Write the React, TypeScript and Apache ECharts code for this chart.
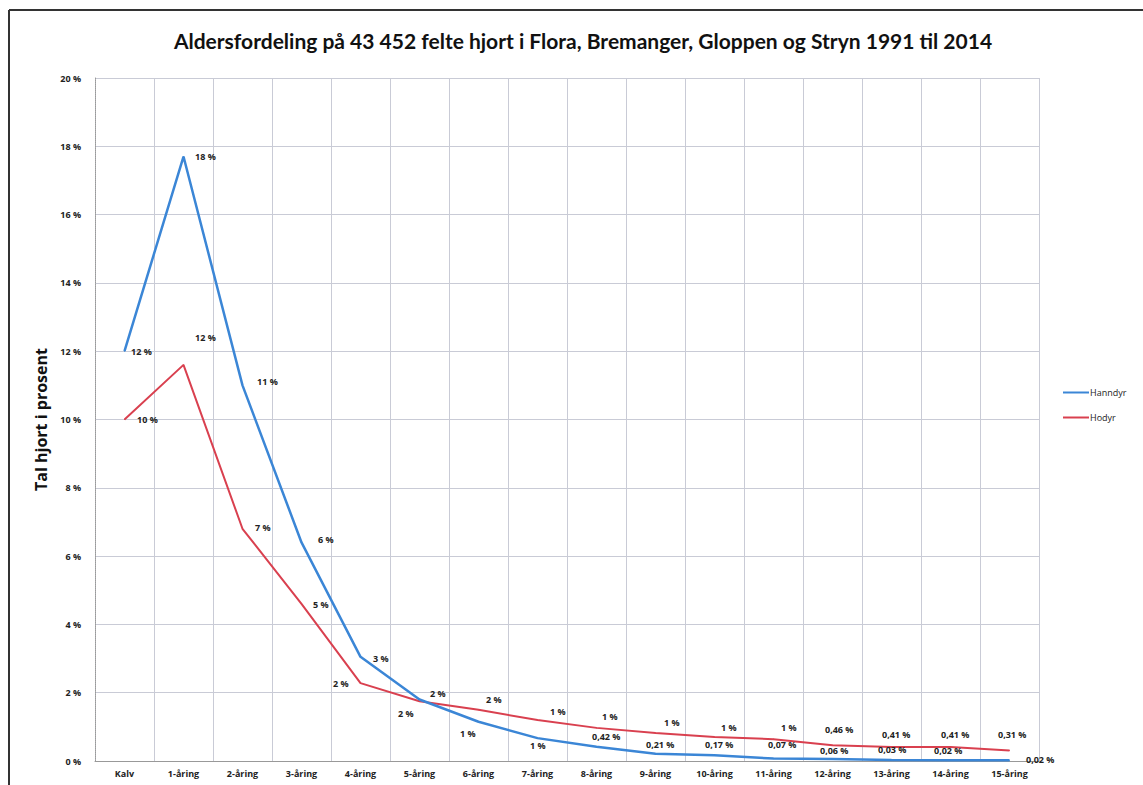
import React, { useEffect, useRef } from "react";
import * as echarts from "echarts";

const categories = ["Kalv", "1-åring", "2-åring", "3-åring", "4-åring", "5-åring", "6-åring", "7-åring", "8-åring", "9-åring", "10-åring", "11-åring", "12-åring", "13-åring", "14-åring", "15-åring"];
const hanndyr = [12.0, 17.7, 11.0, 6.4, 3.05, 1.8, 1.15, 0.67, 0.42, 0.21, 0.17, 0.07, 0.06, 0.03, 0.02, 0.02];
const hodyr = [10.0, 11.6, 6.8, 4.6, 2.28, 1.75, 1.5, 1.2, 0.97, 0.82, 0.7, 0.64, 0.46, 0.41, 0.41, 0.31];
const yTicks = [0, 2, 4, 6, 8, 10, 12, 14, 16, 18, 20];

const blueLabelOffsets = [[2, 0], [7, 0], [10, -4], [12, -3], [8, 2], [-26, 14], [-23, 12], [-12, 7], [-9, -10], [-14, -9], [-14, -11], [-10, -14], [-17, -8], [-18, -10], [-21, -10], [12, -1]];
const redLabelOffsets = [[8, 0], [7, -27], [8, -1], [7, 1], [-32, 0], [6, -8], [3, -10], [8, -9], [1, -11], [4, -10], [2, -10], [3, -12], [-12, -16], [-14, -12], [-14, -12], [-16, -16]];

function fmt(v: number): string {
  if (v >= 0.5) return Math.round(v) + " %";
  return v.toFixed(2).replace(".", ",") + " %";
}

export default function App() {
  const ref = useRef<HTMLDivElement>(null);
  useEffect(() => {
    document.body.style.margin = "0";
    const chart = echarts.init(ref.current!, null, { renderer: "svg" });
    const labelStyle = { fontSize: 9, fontWeight: "bold" as const, color: "#222", fontFamily: "Open Sans" };
    const mk = (vals: number[], offs: number[][]) =>
      vals.map((v, i) => ({
        value: v,
        label: { show: true, position: "right", distance: 4, offset: offs[i], formatter: () => fmt(v), ...labelStyle },
      }));
    chart.setOption({
      animation: false,
      backgroundColor: "#fff",
      title: {
        text: "Aldersfordeling på 43 452 felte hjort i Flora, Bremanger, Gloppen og Stryn 1991 til 2014",
        left: 578,
        textAlign: "center",
        top: 25,
        textStyle: { fontFamily: "Lato", fontWeight: "bold", fontSize: 21, color: "#111" },
      },
      legend: {
        orient: "vertical",
        left: 1058,
        top: 383,
        itemWidth: 26,
        itemHeight: 2,
        itemGap: 16,
        icon: "rect",
        textStyle: { fontSize: 9, color: "#222", fontFamily: "Open Sans", padding: [0, 0, 0, -4] },
        data: ["Hanndyr", "Hodyr"],
      },
      grid: { left: 95, right: 104, top: 78, bottom: 24, containLabel: false },
      xAxis: {
        type: "category",
        data: categories,
        boundaryGap: true,
        axisLine: { lineStyle: { color: "#999" } },
        axisTick: { show: false },
        axisLabel: { fontSize: 9, fontWeight: "bold", color: "#222", fontFamily: "Open Sans", margin: 8 },
        splitLine: { show: true, lineStyle: { color: "#c9cbd6", width: 1 } },
      },
      yAxis: {
        type: "value",
        min: yTicks[0],
        max: yTicks[yTicks.length - 1],
        interval: 2,
        name: "Tal hjort i prosent",
        nameLocation: "middle",
        nameGap: 44,
        nameTextStyle: { fontFamily: "Open Sans", fontWeight: "bold", fontSize: 16, color: "#111" },
        axisLine: { show: true, lineStyle: { color: "#999", type: "dotted" } },
        axisTick: { show: false },
        axisLabel: { fontSize: 9, fontWeight: "bold", color: "#222", fontFamily: "Open Sans", formatter: (v: number) => v + " %", margin: 14 },
        splitLine: { show: true, lineStyle: { color: "#c9cbd6", width: 1 } },
      },
      series: [
        {
          name: "Hanndyr",
          type: "line",
          data: mk(hanndyr, blueLabelOffsets),
          symbol: "circle",
          symbolSize: 1,
          showSymbol: true,
          lineStyle: { color: "#3b86d6", width: 2.5 },
          itemStyle: { color: "#3b86d6" },
          z: 3,
        },
        {
          name: "Hodyr",
          type: "line",
          data: mk(hodyr, redLabelOffsets),
          symbol: "circle",
          symbolSize: 1,
          showSymbol: true,
          lineStyle: { color: "#d9404f", width: 2 },
          itemStyle: { color: "#d9404f" },
          z: 2,
        },
      ],
      graphic: [
        { type: "line", shape: { x1: 9, y1: 10, x2: 1143, y2: 10 }, style: { stroke: "#333", lineWidth: 2 } },
        { type: "line", shape: { x1: 9, y1: 10, x2: 9, y2: 785 }, style: { stroke: "#333", lineWidth: 2 } },
      ],
    });
    return () => chart.dispose();
  }, []);
  return <div ref={ref} style={{ width: 1143, height: 785 }} />;
}
